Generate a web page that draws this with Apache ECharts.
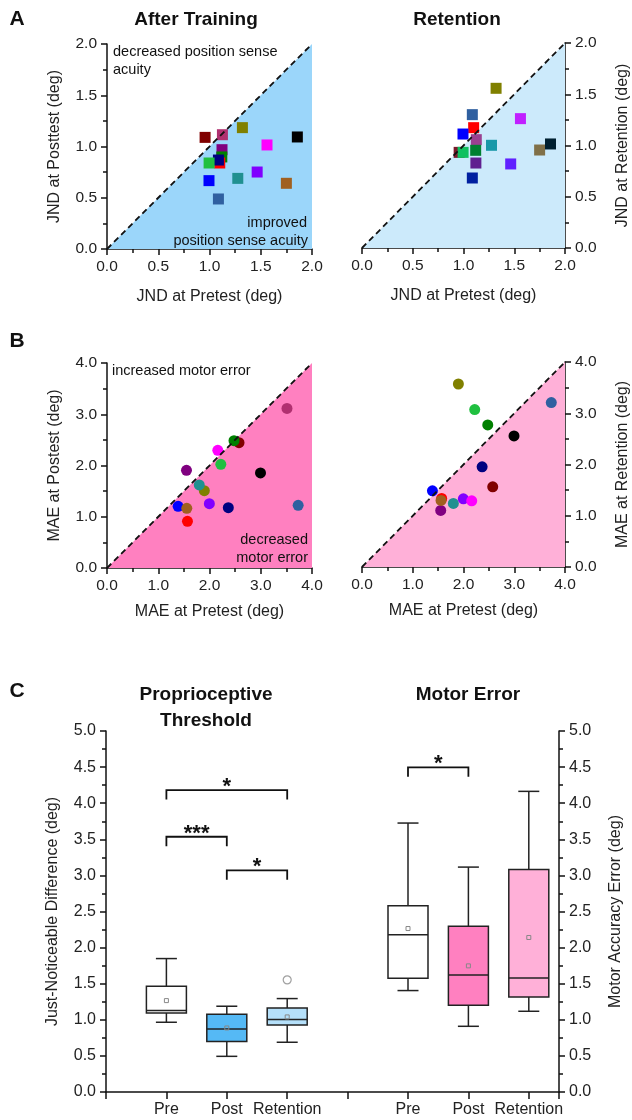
<!DOCTYPE html>
<html><head><meta charset="utf-8">
<script src="https://cdn.jsdelivr.net/npm/echarts@6/dist/echarts.min.js"></script>
<style>html,body{margin:0;padding:0;background:#fff;overflow:hidden}#c{width:632px;height:1120px}</style>
</head><body><div id="c"></div>
<script>
// ---------------- DATA ----------------
// 15 participants (same order in every array)
const jndPre  = [0.957, 1.126, 1.321, 1.122, 1.120, 1.100, 1.087, 0.996, 0.995, 1.276, 1.087, 1.465, 1.561, 1.750, 1.857];
const jndPost = [1.089, 1.115, 1.184, 0.969, 0.898, 0.839, 0.868, 0.839, 0.667, 0.689, 0.488, 0.751, 1.015, 0.641, 1.093];
const jndRet  = [0.933, 1.057, 1.558, 0.829, 0.953, 1.174, 0.683, 0.933, 1.112, 1.002, 1.301, 0.820, 1.262, 0.956, 1.015];
const maePre  = [2.576, 3.512, 1.899, 1.551, 2.478, 1.570, 2.367, 2.221, 1.388, 1.800, 3.730, 1.997, 2.162, 1.557, 2.995];
const maePost = [2.446, 3.114, 1.509, 1.906, 2.485, 0.910, 1.177, 2.023, 1.203, 1.620, 1.223, 1.255, 2.296, 1.164, 1.854];
const maeRet  = [1.565, 4.160, 3.571, 1.104, 2.773, 1.338, 1.955, 3.071, 1.487, 1.240, 3.208, 1.331, 1.292, 1.299, 2.558];

// Box plots: [min, Q1, median, Q3, max]
const boxCategories = ['Pre', 'Post', 'Retention'];
const jndBox  = [[0.966, 1.095, 1.128, 1.465, 1.848], [0.494, 0.698, 0.873, 1.077, 1.188], [0.689, 0.929, 1.003, 1.165, 1.294]];
const jndMean = [1.266, 0.887, 1.040];
const jndOutliers = [[2, 1.553]]; // [category index, value]
const maeBox  = [[1.405, 1.576, 2.177, 2.579, 3.725], [0.910, 1.201, 1.622, 2.297, 3.115], [1.118, 1.317, 1.580, 3.082, 4.164]];
const maeMean = [2.264, 1.747, 2.140];

// Significance brackets: [from category, to category, height, label]
const jndSig = [[0, 2, 4.18, '*'], [0, 1, 3.535, '***'], [1, 2, 3.07, '*']];
const maeSig = [[0, 1, 4.496, '*']];

// ---------------- STYLE ----------------
const F = "'Liberation Sans', Arial, sans-serif";
const subjColors  = ['#800000','#b03070','#808000','#800080','#008000','#ff0000','#000080','#20c040','#0000ff','#209090','#3060a0','#8000ff','#ff00ff','#a06020','#000000'];
const subjColors2 = ['#7a1a2a','#9a4090','#808000','#602090','#008030','#ff0000','#0020a0','#10c060','#0000ff','#1898a8','#3060a0','#6020ff','#c020ff','#807048','#002030'];
const jndBoxFill = ['#ffffff', '#55b9f5', '#b5e0fa'];
const maeBoxFill = ['#ffffff', '#ff80c0', '#ffb0d8'];

const grids = [
  {left:107, top:44, width:205, height:205},
  {left:362, top:43, width:205, height:205},
  {left:107, top:363, width:205, height:205},
  {left:362, top:362, width:205, height:205},
  {left:106, top:731, width:462, height:361}
];

function axis(gridIndex, max, interval, extra) {
  return Object.assign({
    gridIndex, type:'value', min:0, max, interval,
    axisLine:{show:true, onZero:false, lineStyle:{color:'#111', width:1.5}},
    axisTick:{show:true, inside:false, length:6, lineStyle:{color:'#111', width:1.5}},
    minorTick:{show:true, splitNumber:2, length:4, lineStyle:{color:'#111', width:1.5}},
    splitLine:{show:false}, minorSplitLine:{show:false},
    axisLabel:{color:'#222', fontSize:15.5, fontFamily:F, margin:10, formatter:v=>v.toFixed(1)},
    nameLocation:'middle',
    nameTextStyle:{color:'#222', fontSize:16, fontFamily:F}
  }, extra || {});
}

const xAxes = [
  axis(0, 2, 0.5, {name:'JND at Pretest (deg)', nameGap:40}),
  axis(1, 2, 0.5, {name:'JND at Pretest (deg)', nameGap:40}),
  axis(2, 4, 1, {name:'MAE at Pretest (deg)', nameGap:36}),
  axis(3, 4, 1, {name:'MAE at Pretest (deg)', nameGap:36}),
  axis(4, 7.5, 1, {minorTick:{show:false}, axisTick:{show:true, length:7, lineStyle:{color:'#111', width:1.5}},
    axisLabel:{color:'#222', fontSize:16, fontFamily:F, margin:10,
      formatter:v=>{const r=Math.round(v); if (Math.abs(v-r)>1e-6) return ''; if (r>=1&&r<=3) return boxCategories[r-1]; if (r>=5&&r<=7) return boxCategories[r-5]; return '';}}})
];
const yAxes = [
  axis(0, 2, 0.5, {name:'JND at Posttest (deg)', nameGap:44, nameRotate:90}),
  axis(1, 2, 0.5, {name:'JND at Retention (deg)', nameGap:50, nameRotate:90, position:'right'}),
  axis(2, 4, 1, {name:'MAE at Postest (deg)', nameGap:44, nameRotate:90}),
  axis(3, 4, 1, {name:'MAE at Retention (deg)', nameGap:50, nameRotate:90, position:'right'}),
  axis(4, 5, 0.5, {name:'Just-Noticeable Difference (deg)', nameGap:45, nameRotate:90, axisLabel:{color:'#222', fontSize:16, fontFamily:F, margin:10, formatter:v=>v.toFixed(1)}}),
  axis(4, 5, 0.5, {name:'Motor Accuracy Error (deg)', nameGap:49, nameRotate:90, position:'right', axisLabel:{color:'#222', fontSize:16, fontFamily:F, margin:10, formatter:v=>v.toFixed(1)}})
];

const areaColors = ['#9bd6fa', '#cceafb', '#ff80c0', '#ffb0d8'];
const panelMax = [2, 2, 4, 4];
const series = [];
for (let g = 0; g < 4; g++) {
  const m = panelMax[g];
  series.push({type:'line', xAxisIndex:g, yAxisIndex:g, data:[[0,0],[m,m]], symbol:'none', silent:true, z:1,
    lineStyle:{width:0, opacity:0}, areaStyle:{color:areaColors[g], opacity:1}});
  series.push({type:'line', xAxisIndex:g, yAxisIndex:g, data:[[0,0],[m,m]], symbol:'none', silent:true, z:5,
    lineStyle:{color:'#111', width:1.8, type:[6,4]}});
}
function scatter(g, xs, ys, symbol, size, palette) {
  return {type:'scatter', xAxisIndex:g, yAxisIndex:g, symbol, symbolSize:size, z:3,
    data: xs.map((x,i)=>[x, ys[i]]),
    itemStyle:{opacity:1, color:p=>palette[p.dataIndex]}};
}
series.push(scatter(0, jndPre, jndPost, 'rect', 11, subjColors));
series.push(scatter(1, jndPre, jndRet, 'rect', 11, subjColors2));
series.push(scatter(2, maePre, maePost, 'circle', 11, subjColors));
series.push(scatter(3, maePre, maeRet, 'circle', 11, subjColors));

function boxSeries(yIdx, stats, means, fills, offset) {
  return {type:'custom', xAxisIndex:4, yAxisIndex:yIdx, z:3,
    data: stats.map((s,i)=>[offset+i+1, s[0], s[1], s[2], s[3], s[4], means[i]]),
    renderItem:(params, api)=>{
      const x = api.value(0);
      const P = v=>api.coord([x, v]);
      const cx = P(api.value(3))[0];
      const yMin=P(api.value(1))[1], yQ1=P(api.value(2))[1], yMd=P(api.value(3))[1], yQ3=P(api.value(4))[1], yMx=P(api.value(5))[1], yMean=P(api.value(6))[1];
      const hw = 20, cw = 10.5;
      const ls = {stroke:'#222', lineWidth:1.5};
      return {type:'group', children:[
        {type:'line', shape:{x1:cx, y1:yMx, x2:cx, y2:yQ3}, style:ls},
        {type:'line', shape:{x1:cx-cw, y1:yMx, x2:cx+cw, y2:yMx}, style:ls},
        {type:'line', shape:{x1:cx, y1:yQ1, x2:cx, y2:yMin}, style:ls},
        {type:'line', shape:{x1:cx-cw, y1:yMin, x2:cx+cw, y2:yMin}, style:ls},
        {type:'rect', shape:{x:cx-hw, y:yQ3, width:2*hw, height:yQ1-yQ3}, style:{fill:fills[params.dataIndex], stroke:'#222', lineWidth:1.5}},
        {type:'line', shape:{x1:cx-hw, y1:yMd, x2:cx+hw, y2:yMd}, style:ls},
        {type:'rect', shape:{x:cx-2, y:yMean-2, width:4, height:4}, style:{fill:null, stroke:'#888', lineWidth:1}}
      ]};
    }};
}
series.push(boxSeries(4, jndBox, jndMean, jndBoxFill, 0));
series.push(boxSeries(5, maeBox, maeMean, maeBoxFill, 4));
series.push({type:'scatter', xAxisIndex:4, yAxisIndex:4, symbol:'circle', symbolSize:8, z:4,
  data: jndOutliers.map(o=>[o[0]+1, o[1]]),
  itemStyle:{color:'#fff', borderColor:'#888', borderWidth:1.2}});

function sigSeries(yIdx, sig, offset) {
  return {type:'custom', xAxisIndex:4, yAxisIndex:yIdx, z:4,
    data: sig.map(s=>[offset+s[0]+1, offset+s[1]+1, s[2]]),
    renderItem:(params, api)=>{
      const a = api.coord([api.value(0), api.value(2)]);
      const b = api.coord([api.value(1), api.value(2)]);
      const leg = api.size([0, 0.13])[1];
      const label = sig[params.dataIndex][3];
      return {type:'group', children:[
        {type:'polyline', shape:{points:[[a[0], a[1]+leg],[a[0], a[1]],[b[0], b[1]],[b[0], b[1]+leg]]}, style:{stroke:'#111', lineWidth:1.8, fill:null}},
        {type:'text', x:(a[0]+b[0])/2, y:a[1]-3, style:{text:label, font:'bold 22px '+F, fill:'#111', align:'center', verticalAlign:'middle'}}
      ]};
    }};
}
series.push(sigSeries(4, jndSig, 0));
series.push(sigSeries(5, maeSig, 4));

function txt(x, y, text, font, align) {
  return {type:'text', x, y, z:10, style:{text, font, fill:'#111', align:align||'center', verticalAlign:'middle'}};
}
const bold = s=>'bold '+s+'px '+F;
const reg = s=>s+'px '+F;
const graphic = [
  txt(17, 19, 'A', bold(21)), txt(17, 341, 'B', bold(21)), txt(17, 691, 'C', bold(21)),
  txt(196, 20, 'After Training', bold(19)), txt(457, 20, 'Retention', bold(19)),
  txt(206, 695, 'Proprioceptive', bold(19)), txt(206, 721, 'Threshold', bold(19)), txt(468, 695, 'Motor Error', bold(19)),
  txt(113, 52, 'decreased position sense', reg(14.5), 'left'), txt(113, 70, 'acuity', reg(14.5), 'left'),
  txt(307, 223, 'improved', reg(14.5), 'right'), txt(308, 241, 'position sense acuity', reg(14.5), 'right'),
  txt(112, 371, 'increased motor error', reg(14.5), 'left'),
  txt(308, 540, 'decreased', reg(14.5), 'right'), txt(308, 558, 'motor error', reg(14.5), 'right')
];

const chart = echarts.init(document.getElementById('c'), null, {renderer:'canvas'});
chart.setOption({
  animation:false,
  backgroundColor:'#fff',
  grid: grids,
  xAxis: xAxes,
  yAxis: yAxes,
  series,
  graphic
});
</script></body></html>
